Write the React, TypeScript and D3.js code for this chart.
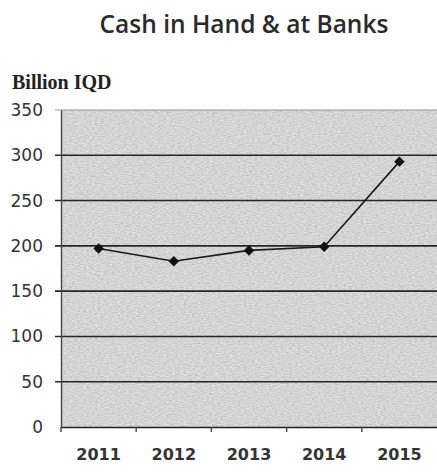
import { useEffect, useRef } from "react";
import * as d3 from "d3";

const years = ["2011", "2012", "2013", "2014", "2015"];
const cash = [197, 183, 195, 199, 293];
const yTicks = [0, 50, 100, 150, 200, 250, 300, 350];

export default function App() {
  const ref = useRef<SVGSVGElement | null>(null);

  useEffect(() => {
    const el = ref.current;
    if (!el) return;
    const svg = d3.select(el);
    svg.selectAll("*").remove();

    const width = 437;
    const height = 473;
    const margin = { top: 110, right: 0, bottom: 46, left: 61 };
    const plotW = width - margin.left - margin.right;
    const plotH = height - margin.top - margin.bottom;

    const x = d3.scaleBand().domain(years).range([0, plotW]);
    const y = d3.scaleLinear().domain([0, 350]).range([plotH, 0]);

    // scanned paper texture for the plot area
    const defs = svg.append("defs");
    const f = defs
      .append("filter")
      .attr("id", "grain")
      .attr("x", 0)
      .attr("y", 0)
      .attr("width", 1)
      .attr("height", 1);
    f.append("feTurbulence")
      .attr("type", "fractalNoise")
      .attr("baseFrequency", "0.35 0.9")
      .attr("numOctaves", 2)
      .attr("seed", 3)
      .attr("result", "noise");
    f.append("feColorMatrix")
      .attr("in", "noise")
      .attr("type", "matrix")
      .attr(
        "values",
        "0 0 0 0 0  0 0 0 0 0  0 0 0 0 0  0 0 0 0.55 -0.12"
      )
      .attr("result", "dots");
    f.append("feComposite")
      .attr("in", "dots")
      .attr("in2", "SourceGraphic")
      .attr("operator", "atop");

    // title
    svg
      .append("text")
      .attr("x", 244)
      .attr("y", 33)
      .attr("text-anchor", "middle")
      .attr("font-family", "Open Sans")
      .attr("font-weight", 600)
      .attr("font-size", 24.5)
      .attr("fill", "#2a2a2a")
      .text("Cash in Hand & at Banks");

    svg
      .append("text")
      .attr("x", 12)
      .attr("y", 89)
      .attr("font-family", "Liberation Serif")
      .attr("font-weight", "bold")
      .attr("font-size", 20)
      .attr("fill", "#222")
      .text("Billion IQD");

    const g = svg
      .append("g")
      .attr("transform", `translate(${margin.left},${margin.top})`);

    // plot background
    g.append("rect")
      .attr("width", plotW)
      .attr("height", plotH)
      .attr("fill", "#e4e4e4")
      .attr("filter", "url(#grain)");

    // gridlines
    g.append("g")
      .selectAll("line")
      .data(yTicks.filter((t) => t > 0 && t < 350))
      .join("line")
      .attr("x1", -6)
      .attr("x2", plotW)
      .attr("y1", (d) => y(d))
      .attr("y2", (d) => y(d))
      .attr("stroke", "#262626")
      .attr("stroke-width", 1.6);

    g.append("line")
      .attr("x1", -6)
      .attr("x2", plotW)
      .attr("y1", 0)
      .attr("y2", 0)
      .attr("stroke", "#9a9a9a")
      .attr("stroke-width", 1.2);

    // y axis
    const yAxis = g
      .append("g")
      .call(d3.axisLeft(y).tickValues(yTicks).tickSize(0).tickPadding(18));
    yAxis.select(".domain").attr("stroke", "#444").attr("stroke-width", 1.4);
    yAxis
      .selectAll("text")
      .attr("font-family", "DejaVu Sans")
      .attr("font-size", 17)
      .attr("fill", "#333");

    // x axis
    const xAxis = g
      .append("g")
      .attr("transform", `translate(0,${plotH})`)
      .call(d3.axisBottom(x).tickSize(0).tickPadding(22));
    xAxis.select(".domain").attr("stroke", "#222").attr("stroke-width", 1.6);
    xAxis
      .selectAll("text")
      .attr("font-family", "DejaVu Sans")
      .attr("font-weight", "bold")
      .attr("font-size", 16)
      .attr("fill", "#333");

    g.append("g")
      .selectAll("line")
      .data(years)
      .join("line")
      .attr("x1", (d) => x(d)!)
      .attr("x2", (d) => x(d)!)
      .attr("y1", plotH)
      .attr("y2", plotH + 5)
      .attr("stroke", "#444")
      .attr("stroke-width", 1.4);

    const cx = (i: number) => x(years[i])! + x.bandwidth() / 2;

    // line
    const line = d3
      .line<number>()
      .x((_, i) => cx(i))
      .y((d) => y(d));
    g.append("path")
      .datum(cash)
      .attr("d", line)
      .attr("fill", "none")
      .attr("stroke", "#1a1a1a")
      .attr("stroke-width", 1.6);

    const diamond = d3.symbol().type(d3.symbolDiamond2).size(70);
    g.append("g")
      .selectAll("path")
      .data(cash)
      .join("path")
      .attr("d", diamond)
      .attr("transform", (d, i) => `translate(${cx(i)},${y(d)})`)
      .attr("fill", "#111");
  }, []);

  return (
    <svg
      ref={ref}
      width={437}
      height={473}
      style={{ position: "absolute", left: 0, top: 0, background: "#fff" }}
    />
  );
}
